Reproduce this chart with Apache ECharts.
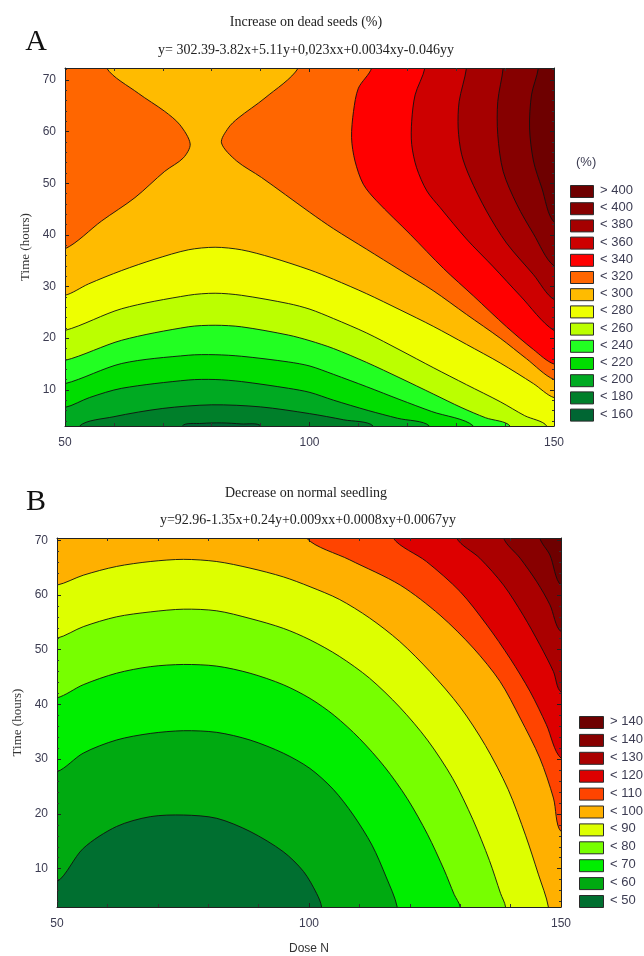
<!DOCTYPE html>
<html>
<head>
<meta charset="utf-8">
<script src="https://cdn.jsdelivr.net/npm/echarts@6/dist/echarts.min.js"></script>
<style>
html, body { margin: 0; padding: 0; background: #fff; }
#main { width: 644px; height: 956px; }
</style>
</head>
<body>
<div id="main"></div>
<script>
// axis ranges
var doseRange = [50, 150];
var timeRangeA = [3, 72.3];
var timeRangeB = [3, 70.4];

// --- A: increase on dead seeds (%) ---
var levelsA = [400, 380, 360, 340, 320, 300, 280, 260, 240, 220, 200, 180, 160];
var legendA = ['> 400', '< 400', '< 380', '< 360', '< 340', '< 320', '< 300', '< 280', '< 260', '< 240', '< 220', '< 200', '< 180', '< 160'];
var colorsA = ['#6e0000', '#860000', '#a50000', '#cd0000', '#ff0000', '#ff6600', '#ffbb00', '#eeff00', '#bbff00', '#22ff22', '#00dd00', '#00aa22', '#007f2a', '#006633'];

// contour lines, [dose, time]
var a400 = [[146.8, 72.3], [145.4, 67.1], [145, 60.7], [145.8, 54.3], [147.5, 49.1], [150, 42.5]];
var a380 = [[139.6, 72.3], [138.5, 65.8], [138.5, 59.4], [139.6, 52.3], [142.4, 45.9], [145.8, 40.2], [150, 34]];
var a360 = [[132.1, 72.3], [130.6, 65.8], [130.4, 60.7], [131.1, 55.6], [132.8, 51.1], [136.2, 44.6], [140.3, 38.4], [145.8, 32.3], [150, 27.5]];
var a340 = [[123.6, 72.3], [121.6, 67.1], [120.9, 62], [120.9, 57.5], [121.9, 53], [124, 48.5], [126.7, 45.3], [132.1, 39.2], [137.6, 33.8], [143.1, 28.2], [150, 21.5]];
var a320 = [[112.7, 72.3], [110, 68.4], [109, 63.9], [108.6, 58.8], [109.3, 54.3], [111, 49.8], [113.7, 46.6], [120.6, 40.1], [127.4, 33.5], [133.5, 28.2], [140.3, 22.2], [145.8, 17.8], [150, 15]];
var a300L = [[50, 37.3], [57.5, 42.7], [64.3, 47.2], [70.4, 52.3], [74.2, 54.9], [75.6, 57.6], [73.5, 61.3], [70.4, 63.9], [65, 67.4], [58.5, 72.3]];
var a300R = [[97.7, 72.3], [90.9, 66.5], [85.4, 62.6], [83.4, 60.7], [82, 57.8], [85.1, 54.3], [90.2, 51.1], [100, 44.4], [104.9, 41.2], [111.7, 37.2], [118.5, 33.2], [125.3, 29.2], [132.1, 24.6], [139, 20], [144.4, 16], [150, 12]];
var a280 = [[50, 28.3], [54.8, 30.5], [61.6, 33.1], [68.4, 35.3], [75.2, 37.1], [80.7, 37.6], [86.1, 37.1], [92.3, 35.6], [100.1, 33.2], [104.9, 31.4], [111.7, 28.6], [118.5, 25.5], [125.3, 22.3], [132.1, 18.8], [139, 15.2], [145.8, 11.2], [150, 8.5]];
var a260 = [[50, 21.5], [61.6, 25.7], [75.2, 28.3], [80.7, 28.7], [86.1, 28.3], [95.7, 26.7], [100.1, 25.6], [104.9, 23.8], [111.7, 21], [118.5, 17.7], [125.3, 14.3], [132.1, 11], [139, 7.7], [144, 5], [148.5, 3]];
var a240 = [[50, 15.7], [61.6, 19.6], [75.2, 22.2], [80.7, 22.5], [86.1, 22.2], [95.7, 20.6], [100.1, 19.5], [104.9, 18], [111.7, 15.3], [118.5, 12.3], [125.3, 9.2], [131, 6.6], [136, 4.6], [141, 3]];
var a220 = [[50, 11.2], [61.6, 15.1], [75.2, 16.7], [80.7, 16.8], [86.1, 16.5], [95.7, 15.4], [100.1, 14.6], [104.9, 13], [111.7, 10.6], [118.5, 8.1], [125, 5.8], [133.5, 3]];
var a200 = [[50, 6.6], [55, 8.5], [61.6, 10.3], [75.2, 11.9], [80.7, 12], [86.1, 11.6], [95.7, 10.3], [100.1, 9.5], [104.9, 8], [112, 6], [118, 4.5], [124.5, 3]];
var a180 = [[53, 3], [60, 4.8], [70, 6.4], [80, 7.1], [90, 6.7], [100, 5.4], [107, 4.2], [113, 3]];
var a160 = [[74, 3], [78, 3.5], [82, 3.6], [86, 3.4], [90, 3]];

// --- B: decrease on normal seedling ---
var levelsB = [140, 130, 120, 110, 100, 90, 80, 70, 60, 50];
var legendB = ['> 140', '< 140', '< 130', '< 120', '< 110', '< 100', '< 90', '< 80', '< 70', '< 60', '< 50'];
var colorsB = ['#6e0000', '#880000', '#aa0000', '#dd0000', '#ff4400', '#ffb000', '#ddff00', '#77ff00', '#00ee00', '#00aa11', '#006f30'];

var b140 = [[145.8, 70.4], [147.8, 67.3], [150, 61.8]];
var b130 = [[138.6, 70.4], [141.9, 66.7], [145.2, 62.4], [147.8, 58.2], [150, 53.3]];
var b120 = [[129.3, 70.4], [133.9, 66.7], [138.6, 61.8], [142.5, 56.3], [145.8, 50.9], [148.5, 46], [150, 42.3]];
var b110 = [[116.7, 70.4], [123.3, 66.1], [130, 60.6], [135.3, 54.5], [139.9, 48.4], [143.9, 42.3], [147.1, 36.3], [150, 30.2]];
var b100 = [[99.5, 70.4], [108.1, 66.4], [118.1, 61.8], [126, 56.3], [132.6, 50.3], [137.9, 44.2], [141.9, 37.5], [145.8, 30.2], [148.5, 22.9], [150, 16.8]];
var b90 = [[50, 61.8], [55.2, 63.6], [61.8, 65.2], [68.5, 66.1], [75.1, 66.5], [81.7, 66.1], [88.3, 64.9], [94.9, 63.3], [100.2, 61.5], [106, 59.2], [112, 55.8], [118, 51.5], [124, 46], [130, 39.5], [135, 32.5], [139.5, 24.5], [143, 16], [145.5, 9], [147.5, 3]];
var b80 = [[50, 52.1], [55.2, 54.2], [61.8, 56], [68.5, 56.9], [75.1, 57.4], [81.7, 57.1], [88.3, 55.7], [94.9, 53.9], [100.2, 51.8], [106, 48.8], [112, 44.8], [118, 39.5], [123.5, 33.5], [128.5, 26.5], [132.5, 19], [135.8, 11.5], [138, 5.5], [139, 3]];
var b70 = [[50, 41.2], [55.2, 43.6], [61.8, 45.7], [68.5, 46.9], [75.1, 47.3], [81.7, 47], [88.3, 45.7], [94.9, 43.6], [100.2, 41.1], [105, 38], [110, 33.8], [115, 28.6], [119.5, 22.8], [123.5, 16.3], [126.8, 9.8], [128.8, 5.3], [130, 3]];
var b60 = [[50, 27.7], [55.2, 31.1], [61.8, 33.5], [68.5, 34.7], [75.1, 35.2], [81.7, 34.9], [88.3, 33.5], [94.9, 31.1], [100.2, 28.3], [104.8, 24.5], [108.8, 19.8], [112.5, 14.3], [115.3, 8.5], [117.5, 3]];
var b50 = [[50, 7.6], [55.2, 13.7], [61.8, 17.7], [68.5, 19.5], [75.1, 19.8], [81.7, 19.2], [88.3, 16.8], [94.9, 13.1], [98.9, 9.5], [101.5, 5.5], [102.5, 3]];

// closing a sub-level region {z < level} outside the frame
var corner = { BL: [35, -15], BR: [165, -15], TL: [35, 90] };
function ext(p, top) {
  if (p[0] <= doseRange[0] + 0.05) return [doseRange[0] - 5, p[1]];
  if (p[0] >= doseRange[1] - 0.05) return [doseRange[1] + 5, p[1]];
  if (p[1] >= top - 0.05) return [p[0], top + 5];
  return [p[0], -2];
}
function ring(branches, corners, top) {
  var r = [];
  branches.forEach(function (b) {
    r.push(ext(b[0], top));
    r = r.concat(b);
    r.push(ext(b[b.length - 1], top));
  });
  corners.forEach(function (c) { r.push(corner[c]); });
  return r;
}

var TL3 = ['BR', 'BL', 'TL'];
var ringsA = [
  ring([a400], TL3, timeRangeA[1]), ring([a380], TL3, timeRangeA[1]), ring([a360], TL3, timeRangeA[1]),
  ring([a340], TL3, timeRangeA[1]), ring([a320], TL3, timeRangeA[1]),
  ring([a300L, a300R], ['BR', 'BL'], timeRangeA[1]),
  ring([a280], ['BR', 'BL'], timeRangeA[1]), ring([a260], ['BL'], timeRangeA[1]),
  ring([a240], ['BL'], timeRangeA[1]), ring([a220], ['BL'], timeRangeA[1]),
  ring([a200], ['BL'], timeRangeA[1]), ring([a180], [], timeRangeA[1]), ring([a160], [], timeRangeA[1])
];
var ringsB = [
  ring([b140], TL3, timeRangeB[1]), ring([b130], TL3, timeRangeB[1]), ring([b120], TL3, timeRangeB[1]),
  ring([b110], TL3, timeRangeB[1]), ring([b100], TL3, timeRangeB[1]),
  ring([b90], ['BL'], timeRangeB[1]), ring([b80], ['BL'], timeRangeB[1]), ring([b70], ['BL'], timeRangeB[1]),
  ring([b60], ['BL'], timeRangeB[1]), ring([b50], ['BL'], timeRangeB[1])
];

function contourSeries(idx, rings, colors) {
  return {
    type: 'custom',
    xAxisIndex: idx,
    yAxisIndex: idx,
    clip: true,
    silent: true,
    data: rings.map(function (r, i) { return [60, 10, i]; }),
    renderItem: function (params, api) {
      var i = params.dataIndex;
      var pts = rings[i].map(function (p) { return api.coord(p); });
      return {
        type: 'polygon',
        shape: { points: pts, smooth: 0.3 },
        style: { fill: colors[i + 1], stroke: '#111', lineWidth: 0.9 }
      };
    }
  };
}

var sans = '"Liberation Sans", Arial, sans-serif';
var serif = '"Liberation Serif", "Times New Roman", serif';
var labelColor = '#3c3c52';

function xAxisPair(grid) {
  var base = {
    gridIndex: grid, type: 'value', min: doseRange[0], max: doseRange[1], interval: 50, z: 10,
    axisLine: { show: true, lineStyle: { color: '#222', width: 1 } },
    axisTick: { show: true, inside: true, length: 4, lineStyle: { color: '#222' } },
    minorTick: { show: true, splitNumber: 5, length: 3, lineStyle: { color: '#333' } },
    splitLine: { show: false }
  };
  var bottom = echarts.util.merge({
    position: 'bottom',
    axisLabel: { margin: 11, fontFamily: sans, fontSize: 12, color: labelColor }
  }, base);
  var top = echarts.util.merge({ position: 'top', axisLabel: { show: false } }, base);
  return [bottom, top];
}
function yAxisPair(grid, range, gap) {
  var base = {
    gridIndex: grid, type: 'value', min: range[0], max: range[1], splitNumber: 7, z: 10,
    axisLine: { show: true, lineStyle: { color: '#222', width: 1 } },
    axisTick: { show: true, inside: true, length: 4, lineStyle: { color: '#222' } },
    minorTick: { show: true, splitNumber: 5, length: 2, lineStyle: { color: '#333' } },
    splitLine: { show: false }
  };
  var left = echarts.util.merge({
    position: 'left',
    name: 'Time (hours)', nameLocation: 'middle', nameGap: gap,
    nameTextStyle: { fontFamily: serif, fontSize: 13, color: '#333' },
    axisLabel: {
      margin: 9, fontFamily: sans, fontSize: 12, color: labelColor,
      formatter: function (v) { return v % 10 === 0 ? String(v) : ''; }
    }
  }, base);
  var right = echarts.util.merge({ position: 'right', axisLabel: { show: false } }, base);
  return [left, right];
}

var xa = xAxisPair(0), xb = xAxisPair(1);
var ya = yAxisPair(0, timeRangeA, 28), yb = yAxisPair(1, timeRangeB, 32);
xb[0].name = 'Dose N';
xb[0].nameLocation = 'middle';
xb[0].nameGap = 36;
xb[0].nameTextStyle = { fontFamily: sans, fontSize: 12, color: '#333' };

function legendGraphics(labels, colors, x0, y0, step, w, h) {
  var g = [];
  labels.forEach(function (lab, i) {
    g.push({
      type: 'rect', left: x0, top: y0 + i * step,
      shape: { width: w, height: h },
      style: { fill: colors[i], stroke: '#2a2a2a', lineWidth: 1 }
    });
    g.push({
      type: 'text', left: x0 + w + 7, top: y0 + i * step - 1,
      style: { text: lab, font: '13px ' + sans, fill: labelColor }
    });
  });
  return g;
}

var graphics = [
  { type: 'text', x: 36, y: 42, style: { text: 'A', font: '30px ' + serif, fill: '#111', textAlign: 'center', textVerticalAlign: 'middle' } },
  { type: 'text', x: 306, y: 22, style: { text: 'Increase on dead seeds (%)', font: '14px ' + serif, fill: '#222', textAlign: 'center', textVerticalAlign: 'middle' } },
  { type: 'text', x: 306, y: 50, style: { text: 'y= 302.39-3.82x+5.11y+0,023xx+0.0034xy-0.046yy', font: '14px ' + serif, fill: '#222', textAlign: 'center', textVerticalAlign: 'middle' } },
  { type: 'text', x: 36, y: 502, style: { text: 'B', font: '30px ' + serif, fill: '#111', textAlign: 'center', textVerticalAlign: 'middle' } },
  { type: 'text', x: 306, y: 493, style: { text: 'Decrease on normal seedling', font: '14px ' + serif, fill: '#222', textAlign: 'center', textVerticalAlign: 'middle' } },
  { type: 'text', x: 308, y: 520, style: { text: 'y=92.96-1.35x+0.24y+0.009xx+0.0008xy+0.0067yy', font: '14px ' + serif, fill: '#222', textAlign: 'center', textVerticalAlign: 'middle' } },
  { type: 'text', left: 576, top: 156, style: { text: '(%)', font: '13px ' + sans, fill: labelColor } }
].concat(legendGraphics(legendA, colorsA, 570, 185, 17.2, 23, 12))
 .concat(legendGraphics(legendB, colorsB, 579, 716, 17.9, 24, 12));

var chart = echarts.init(document.getElementById('main'));
chart.setOption({
  animation: false,
  backgroundColor: '#fff',
  grid: [
    { left: 65, top: 68, width: 489, height: 358, show: true, backgroundColor: colorsA[0], borderWidth: 0 },
    { left: 57, top: 538, width: 504, height: 369, show: true, backgroundColor: colorsB[0], borderWidth: 0 }
  ],
  xAxis: [xa[0], xa[1], xb[0], xb[1]],
  yAxis: [ya[0], ya[1], yb[0], yb[1]],
  series: [contourSeries(0, ringsA, colorsA), contourSeries(2, ringsB, colorsB)],
  graphic: graphics
});
</script>
</body>
</html>
